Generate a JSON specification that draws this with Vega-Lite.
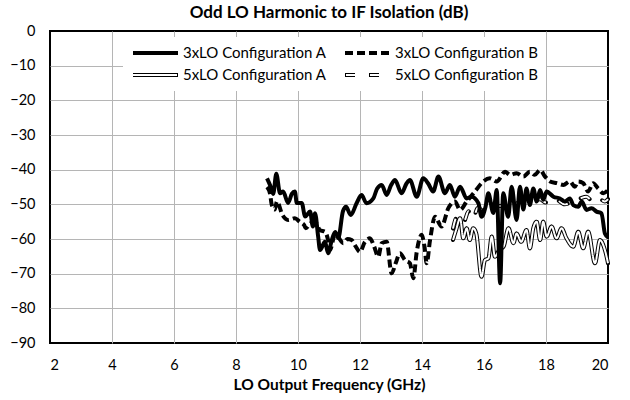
{
"$schema": "https://vega.github.io/schema/vega-lite/v6.json",
"width": 558, "height": 312,
"autosize": {"type": "none"},
"padding": {"left": 50, "top": 31, "right": 22, "bottom": 57},
"background": "white",
"title": {"text": "Odd LO Harmonic to IF Isolation (dB)", "fontSize": 17, "fontWeight": "bold", "font": "Lato", "color": "black", "offset": 1},
"config": {
  "view": {"stroke": "black", "strokeWidth": 2},
  "axis": {"gridColor": "#b5b5b5", "gridWidth": 1, "domain": false, "ticks": false, "labelFont": "Lato", "labelFontSize": 14.5, "labelColor": "black", "titleFont": "Lato", "titleFontSize": 15.5, "titleFontWeight": "bold", "titleColor": "black"}
},
"datasets": {"d": [
{"s":"3xLO Configuration A","f":9.0,"v":-42.5},{"s":"3xLO Configuration A","f":9.1,"v":-44.5},{"s":"3xLO Configuration A","f":9.2,"v":-47},{"s":"3xLO Configuration A","f":9.3,"v":-41.2},{"s":"3xLO Configuration A","f":9.42,"v":-46.8},{"s":"3xLO Configuration A","f":9.52,"v":-46.3},{"s":"3xLO Configuration A","f":9.68,"v":-49.6},{"s":"3xLO Configuration A","f":9.8,"v":-47},{"s":"3xLO Configuration A","f":9.9,"v":-46.3},{"s":"3xLO Configuration A","f":9.96,"v":-49.6},{"s":"3xLO Configuration A","f":10.12,"v":-49.6},{"s":"3xLO Configuration A","f":10.23,"v":-53.5},{"s":"3xLO Configuration A","f":10.39,"v":-52.1},{"s":"3xLO Configuration A","f":10.48,"v":-56.4},{"s":"3xLO Configuration A","f":10.55,"v":-52.6},{"s":"3xLO Configuration A","f":10.65,"v":-59.3},{"s":"3xLO Configuration A","f":10.71,"v":-63.2},{"s":"3xLO Configuration A","f":10.87,"v":-60.8},{"s":"3xLO Configuration A","f":10.97,"v":-64.1},{"s":"3xLO Configuration A","f":11.09,"v":-60.3},{"s":"3xLO Configuration A","f":11.2,"v":-58},{"s":"3xLO Configuration A","f":11.3,"v":-59.7},{"s":"3xLO Configuration A","f":11.45,"v":-52},{"s":"3xLO Configuration A","f":11.55,"v":-50.7},{"s":"3xLO Configuration A","f":11.7,"v":-53.1},{"s":"3xLO Configuration A","f":11.89,"v":-49.7},{"s":"3xLO Configuration A","f":12.05,"v":-47.3},{"s":"3xLO Configuration A","f":12.21,"v":-49.7},{"s":"3xLO Configuration A","f":12.43,"v":-48.3},{"s":"3xLO Configuration A","f":12.55,"v":-45.5},{"s":"3xLO Configuration A","f":12.7,"v":-44.4},{"s":"3xLO Configuration A","f":12.86,"v":-47.3},{"s":"3xLO Configuration A","f":13.0,"v":-44.5},{"s":"3xLO Configuration A","f":13.13,"v":-43.0},{"s":"3xLO Configuration A","f":13.34,"v":-46.8},{"s":"3xLO Configuration A","f":13.5,"v":-44},{"s":"3xLO Configuration A","f":13.61,"v":-43.0},{"s":"3xLO Configuration A","f":13.83,"v":-47.8},{"s":"3xLO Configuration A","f":14.04,"v":-42.5},{"s":"3xLO Configuration A","f":14.2,"v":-44},{"s":"3xLO Configuration A","f":14.36,"v":-46.3},{"s":"3xLO Configuration A","f":14.53,"v":-42.0},{"s":"3xLO Configuration A","f":14.74,"v":-46.8},{"s":"3xLO Configuration A","f":14.9,"v":-44.4},{"s":"3xLO Configuration A","f":15.06,"v":-47.8},{"s":"3xLO Configuration A","f":15.23,"v":-44.9},{"s":"3xLO Configuration A","f":15.44,"v":-48.3},{"s":"3xLO Configuration A","f":15.6,"v":-47.8},{"s":"3xLO Configuration A","f":15.82,"v":-49.7},{"s":"3xLO Configuration A","f":15.92,"v":-53.6},{"s":"3xLO Configuration A","f":16.05,"v":-50.7},{"s":"3xLO Configuration A","f":16.14,"v":-46.8},{"s":"3xLO Configuration A","f":16.3,"v":-52.5},{"s":"3xLO Configuration A","f":16.41,"v":-45.9},{"s":"3xLO Configuration A","f":16.52,"v":-72.8},{"s":"3xLO Configuration A","f":16.62,"v":-46.8},{"s":"3xLO Configuration A","f":16.78,"v":-53.6},{"s":"3xLO Configuration A","f":16.89,"v":-44.9},{"s":"3xLO Configuration A","f":17.05,"v":-54.5},{"s":"3xLO Configuration A","f":17.16,"v":-44.9},{"s":"3xLO Configuration A","f":17.27,"v":-51.5},{"s":"3xLO Configuration A","f":17.37,"v":-45.4},{"s":"3xLO Configuration A","f":17.48,"v":-50.2},{"s":"3xLO Configuration A","f":17.59,"v":-45.4},{"s":"3xLO Configuration A","f":17.7,"v":-49.2},{"s":"3xLO Configuration A","f":17.81,"v":-45.9},{"s":"3xLO Configuration A","f":17.91,"v":-48.7},{"s":"3xLO Configuration A","f":18.02,"v":-46.3},{"s":"3xLO Configuration A","f":18.24,"v":-47.8},{"s":"3xLO Configuration A","f":18.45,"v":-48.3},{"s":"3xLO Configuration A","f":18.61,"v":-49.2},{"s":"3xLO Configuration A","f":18.77,"v":-48.3},{"s":"3xLO Configuration A","f":18.88,"v":-50.2},{"s":"3xLO Configuration A","f":19.04,"v":-50.7},{"s":"3xLO Configuration A","f":19.15,"v":-49.2},{"s":"3xLO Configuration A","f":19.31,"v":-51.6},{"s":"3xLO Configuration A","f":19.47,"v":-51.1},{"s":"3xLO Configuration A","f":19.63,"v":-52.1},{"s":"3xLO Configuration A","f":19.79,"v":-52.6},{"s":"3xLO Configuration A","f":19.9,"v":-58.4},{"s":"3xLO Configuration A","f":20.0,"v":-59.5},
{"s":"3xLO Configuration B","f":9.0,"v":-45},{"s":"3xLO Configuration B","f":9.1,"v":-47},{"s":"3xLO Configuration B","f":9.15,"v":-50},{"s":"3xLO Configuration B","f":9.25,"v":-51.5},{"s":"3xLO Configuration B","f":9.32,"v":-49.2},{"s":"3xLO Configuration B","f":9.5,"v":-53.1},{"s":"3xLO Configuration B","f":9.68,"v":-54.5},{"s":"3xLO Configuration B","f":9.9,"v":-54},{"s":"3xLO Configuration B","f":10.05,"v":-55},{"s":"3xLO Configuration B","f":10.2,"v":-56},{"s":"3xLO Configuration B","f":10.25,"v":-56.9},{"s":"3xLO Configuration B","f":10.4,"v":-55.5},{"s":"3xLO Configuration B","f":10.55,"v":-55},{"s":"3xLO Configuration B","f":10.71,"v":-57.5},{"s":"3xLO Configuration B","f":10.87,"v":-57.9},{"s":"3xLO Configuration B","f":10.97,"v":-60.3},{"s":"3xLO Configuration B","f":11.03,"v":-63.2},{"s":"3xLO Configuration B","f":11.19,"v":-58.8},{"s":"3xLO Configuration B","f":11.3,"v":-59.5},{"s":"3xLO Configuration B","f":11.46,"v":-61.2},{"s":"3xLO Configuration B","f":11.6,"v":-60},{"s":"3xLO Configuration B","f":11.73,"v":-60.3},{"s":"3xLO Configuration B","f":11.85,"v":-62},{"s":"3xLO Configuration B","f":12.0,"v":-63.7},{"s":"3xLO Configuration B","f":12.15,"v":-61},{"s":"3xLO Configuration B","f":12.32,"v":-59.8},{"s":"3xLO Configuration B","f":12.45,"v":-62},{"s":"3xLO Configuration B","f":12.59,"v":-65.1},{"s":"3xLO Configuration B","f":12.7,"v":-61.2},{"s":"3xLO Configuration B","f":12.86,"v":-60.8},{"s":"3xLO Configuration B","f":13.02,"v":-69.9},{"s":"3xLO Configuration B","f":13.15,"v":-67},{"s":"3xLO Configuration B","f":13.29,"v":-64.1},{"s":"3xLO Configuration B","f":13.45,"v":-66.1},{"s":"3xLO Configuration B","f":13.61,"v":-67.0},{"s":"3xLO Configuration B","f":13.72,"v":-71.3},{"s":"3xLO Configuration B","f":13.83,"v":-63.7},{"s":"3xLO Configuration B","f":13.99,"v":-58.8},{"s":"3xLO Configuration B","f":14.08,"v":-62.2},{"s":"3xLO Configuration B","f":14.15,"v":-67.0},{"s":"3xLO Configuration B","f":14.26,"v":-60.3},{"s":"3xLO Configuration B","f":14.42,"v":-53.6},{"s":"3xLO Configuration B","f":14.63,"v":-56.4},{"s":"3xLO Configuration B","f":14.85,"v":-51.1},{"s":"3xLO Configuration B","f":15.06,"v":-49.2},{"s":"3xLO Configuration B","f":15.23,"v":-51.6},{"s":"3xLO Configuration B","f":15.44,"v":-49.2},{"s":"3xLO Configuration B","f":15.71,"v":-46.3},{"s":"3xLO Configuration B","f":15.92,"v":-43.9},{"s":"3xLO Configuration B","f":16.19,"v":-42.5},{"s":"3xLO Configuration B","f":16.41,"v":-43.4},{"s":"3xLO Configuration B","f":16.68,"v":-40.6},{"s":"3xLO Configuration B","f":16.84,"v":-41.5},{"s":"3xLO Configuration B","f":17.05,"v":-41.0},{"s":"3xLO Configuration B","f":17.27,"v":-42.0},{"s":"3xLO Configuration B","f":17.48,"v":-40.6},{"s":"3xLO Configuration B","f":17.64,"v":-41.5},{"s":"3xLO Configuration B","f":17.81,"v":-40.1},{"s":"3xLO Configuration B","f":17.97,"v":-42.0},{"s":"3xLO Configuration B","f":18.13,"v":-43.4},{"s":"3xLO Configuration B","f":18.35,"v":-43.9},{"s":"3xLO Configuration B","f":18.56,"v":-44.4},{"s":"3xLO Configuration B","f":18.77,"v":-43.4},{"s":"3xLO Configuration B","f":18.93,"v":-44.9},{"s":"3xLO Configuration B","f":19.04,"v":-43.4},{"s":"3xLO Configuration B","f":19.2,"v":-43.9},{"s":"3xLO Configuration B","f":19.36,"v":-46.3},{"s":"3xLO Configuration B","f":19.52,"v":-43.9},{"s":"3xLO Configuration B","f":19.68,"v":-45.4},{"s":"3xLO Configuration B","f":19.85,"v":-46.8},{"s":"3xLO Configuration B","f":20.0,"v":-45.9},
{"s":"5xLO Configuration A","f":15.0,"v":-60.3},{"s":"5xLO Configuration A","f":15.1,"v":-57.4},{"s":"5xLO Configuration A","f":15.23,"v":-54},{"s":"5xLO Configuration A","f":15.33,"v":-59.8},{"s":"5xLO Configuration A","f":15.44,"v":-56.9},{"s":"5xLO Configuration A","f":15.54,"v":-60.3},{"s":"5xLO Configuration A","f":15.65,"v":-56.9},{"s":"5xLO Configuration A","f":15.75,"v":-58.4},{"s":"5xLO Configuration A","f":15.92,"v":-70.9},{"s":"5xLO Configuration A","f":16.03,"v":-66.1},{"s":"5xLO Configuration A","f":16.14,"v":-65.6},{"s":"5xLO Configuration A","f":16.25,"v":-59.3},{"s":"5xLO Configuration A","f":16.35,"v":-65.1},{"s":"5xLO Configuration A","f":16.5,"v":-63},{"s":"5xLO Configuration A","f":16.63,"v":-62.2},{"s":"5xLO Configuration A","f":16.79,"v":-56.9},{"s":"5xLO Configuration A","f":16.95,"v":-61.2},{"s":"5xLO Configuration A","f":17.05,"v":-58.4},{"s":"5xLO Configuration A","f":17.2,"v":-60.8},{"s":"5xLO Configuration A","f":17.37,"v":-57.4},{"s":"5xLO Configuration A","f":17.48,"v":-62.7},{"s":"5xLO Configuration A","f":17.59,"v":-56.9},{"s":"5xLO Configuration A","f":17.7,"v":-55},{"s":"5xLO Configuration A","f":17.81,"v":-60.3},{"s":"5xLO Configuration A","f":17.91,"v":-55},{"s":"5xLO Configuration A","f":18.02,"v":-59.3},{"s":"5xLO Configuration A","f":18.18,"v":-56.4},{"s":"5xLO Configuration A","f":18.34,"v":-59.8},{"s":"5xLO Configuration A","f":18.5,"v":-56.9},{"s":"5xLO Configuration A","f":18.66,"v":-59.8},{"s":"5xLO Configuration A","f":18.88,"v":-62.2},{"s":"5xLO Configuration A","f":19.04,"v":-57.9},{"s":"5xLO Configuration A","f":19.2,"v":-62.7},{"s":"5xLO Configuration A","f":19.36,"v":-57.9},{"s":"5xLO Configuration A","f":19.58,"v":-67.0},{"s":"5xLO Configuration A","f":19.74,"v":-60.3},{"s":"5xLO Configuration A","f":19.9,"v":-63.2},{"s":"5xLO Configuration A","f":20.0,"v":-67.0},
{"s":"5xLO Configuration B","f":15.0,"v":-57},{"s":"5xLO Configuration B","f":15.1,"v":-54},{"s":"5xLO Configuration B","f":15.23,"v":-53.5},{"s":"5xLO Configuration B","f":15.35,"v":-55},{"s":"5xLO Configuration B","f":15.5,"v":-52},{"s":"5xLO Configuration B","f":15.65,"v":-54},{"s":"5xLO Configuration B","f":15.8,"v":-51},{"s":"5xLO Configuration B","f":16.0,"v":-52},{"s":"5xLO Configuration B","f":16.2,"v":-50},{"s":"5xLO Configuration B","f":16.5,"v":-50.5},{"s":"5xLO Configuration B","f":16.8,"v":-49.5},{"s":"5xLO Configuration B","f":17.0,"v":-50},{"s":"5xLO Configuration B","f":17.2,"v":-49},{"s":"5xLO Configuration B","f":17.5,"v":-49.5},{"s":"5xLO Configuration B","f":17.8,"v":-48.5},{"s":"5xLO Configuration B","f":18.0,"v":-49.5},{"s":"5xLO Configuration B","f":18.3,"v":-48.5},{"s":"5xLO Configuration B","f":18.6,"v":-50},{"s":"5xLO Configuration B","f":18.9,"v":-49},{"s":"5xLO Configuration B","f":19.1,"v":-48.3},{"s":"5xLO Configuration B","f":19.3,"v":-47.8},{"s":"5xLO Configuration B","f":19.5,"v":-49},{"s":"5xLO Configuration B","f":19.7,"v":-48.3},{"s":"5xLO Configuration B","f":19.9,"v":-49.2},{"s":"5xLO Configuration B","f":20.0,"v":-48.5}
]},
"data": {"name": "d"},
"encoding": {
  "x": {"field": "f", "type": "quantitative", "scale": {"domain": [2, 20], "nice": false},
        "axis": {"values": [2,4,6,8,10,12,14,16,18,20], "title": "LO Output Frequency  (GHz)", "labelPadding": 15, "titlePadding": 6,
                 "gridOpacity": {"condition": {"test": "datum.value == 2 || datum.value == 20", "value": 0}, "value": 1}}},
  "y": {"field": "v", "type": "quantitative", "scale": {"domain": [-90, 0], "nice": false},
        "axis": {"values": [-90,-80,-70,-60,-50,-40,-30,-20,-10,0], "title": null, "labelPadding": 15,
                 "gridOpacity": {"condition": {"test": "datum.value == -90 || datum.value == 0", "value": 0}, "value": 1}}}
},
"layer": [
  {
    "transform": [{"filter": "indexof(datum.s, '5xLO') == 0"}],
    "mark": {"type": "line", "interpolate": "monotone", "strokeCap": "round", "strokeJoin": "round"},
    "encoding": {
      "color": {"field": "s", "type": "nominal", "scale": {"domain": ["3xLO Configuration A","3xLO Configuration B","5xLO Configuration A","5xLO Configuration B"], "range": ["black","black","black","black"]},
        "legend": {"orient": "none", "legendX": 73, "legendY": 6, "columns": 2, "direction": "horizontal", "title": null, "fillColor": "white", "padding": 8, "symbolType": "stroke", "symbolSize": 2025, "labelFont": "Lato", "labelFontSize": 15, "labelColor": "black", "labelOffset": 3, "columnPadding": 16, "rowPadding": 6, "clipHeight": 16, "labelLimit": 300}},
      "strokeDash": {"field": "s", "type": "nominal", "scale": {"domain": ["3xLO Configuration A","3xLO Configuration B","5xLO Configuration A","5xLO Configuration B"], "range": [[1,0],[8,4],[1,0],[10,14]]}},
      "strokeWidth": {"field": "s", "type": "nominal", "scale": {"domain": ["3xLO Configuration A","3xLO Configuration B","5xLO Configuration A","5xLO Configuration B"], "range": [4,4,5.5,5.5]}}
    }
  },
  {
    "transform": [{"filter": "indexof(datum.s, '5xLO') == 0"}],
    "mark": {"type": "line", "interpolate": "monotone", "strokeCap": "butt"},
    "encoding": {
      "color": {"field": "s", "type": "nominal", "scale": {"domain": ["3xLO Configuration A","3xLO Configuration B","5xLO Configuration A","5xLO Configuration B"," "], "range": ["transparent","transparent","white","white","transparent"]},
        "legend": {"orient": "none", "legendX": 73, "legendY": 6, "columns": 2, "direction": "horizontal", "title": null, "padding": 8, "symbolType": "stroke", "symbolSize": 2025, "labelFont": "Lato", "labelFontSize": 15, "labelExpr": "''", "labelOffset": 3, "columnPadding": 164, "rowPadding": 6, "clipHeight": 16, "labelLimit": 300}},
      "strokeDash": {"field": "s", "type": "nominal", "scale": {"domain": ["3xLO Configuration A","3xLO Configuration B","5xLO Configuration A","5xLO Configuration B"," "], "range": [[1,0],[8,4],[1,0],[10,14],[1,0]]}},
      "strokeWidth": {"field": "s", "type": "nominal", "scale": {"domain": ["3xLO Configuration A","3xLO Configuration B","5xLO Configuration A","5xLO Configuration B"," "], "range": [2,2,2,2,2]}}
    }
  },
  {
    "transform": [{"filter": "datum.s == '3xLO Configuration B'"}],
    "mark": {"type": "line", "interpolate": "monotone", "color": "black", "strokeWidth": 4, "strokeDash": [8,4]},
    "encoding": {}
  },
  {
    "transform": [{"filter": "datum.s == '3xLO Configuration A'"}],
    "mark": {"type": "line", "interpolate": "monotone", "color": "black", "strokeWidth": 4},
    "encoding": {}
  }
],
"resolve": {"scale": {"color": "independent", "strokeDash": "independent", "strokeWidth": "independent"}}
}
